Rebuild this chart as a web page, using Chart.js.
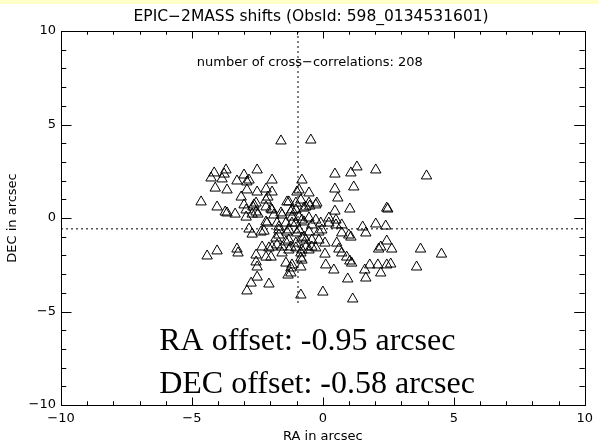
<!DOCTYPE html>
<html>
<head>
<meta charset="utf-8">
<script src="https://cdn.jsdelivr.net/npm/chart.js@4"></script>
<style>
  html, body { margin: 0; padding: 0; background: #fff; }
  #wrap { position: relative; width: 599px; height: 446px; }
  #band { position: absolute; left: 0; top: 0; width: 599px; height: 4px; background: #ffffc8; }
</style>
</head>
<body>
<div id="wrap">
  <canvas id="shiftChart" width="599" height="446"></canvas>
  <div id="band"></div>
</div>
<script>
// EPIC - 2MASS position shifts, arcsec
const raShift = [
  -1.60,-0.46,-3.70,-2.51,-4.15,-4.27,-3.77,-3.85,-3.28,-3.01,
  -2.90,-2.82,-1.94,-0.80,-4.11,-3.66,-2.90,-2.51,-3.12,-4.65,
  -4.04,-3.73,-3.66,-3.35,-3.01,-2.93,-2.63,-2.55,-2.93,-2.70,
  -2.48,-2.17,-1.94,-2.17,-2.10,-2.55,-2.67,-2.17,-1.98,-1.87,
  -1.56,-2.13,-2.82,-2.70,-2.36,-1.30,-0.91,-0.84,-1.03,-0.72,
  -1.18,-0.80,-1.68,-1.41,-0.99,-0.53,-1.37,-0.53,-0.23,-1.94,
  -1.60,-1.22,-2.17,-1.75,-1.03,-0.72,-0.42,-0.08,-2.25,-1.68,
  -1.37,-0.91,-0.53,-0.15,-1.79,-1.30,-0.80,-0.42,-0.15,-2.32,
  -1.94,-1.56,-1.03,-0.65,-0.27,-2.17,-0.84,-1.41,-1.18,-1.33,
  -0.84,-2.06,-0.84,-4.42,-4.04,-3.28,-3.24,-2.55,-2.55,-2.51,
  -2.51,-2.74,-2.90,-1.22,-1.98,-1.75,-1.68,-1.30,-1.41,-1.03,
  -0.84,-0.65,-0.99,-1.30,-1.18,-1.56,-2.06,
  0.46,1.07,1.30,2.02,3.96,0.46,1.18,0.57,0.46,1.03,
  2.44,2.48,-1.03,-0.50,-0.27,-0.65,-1.18,0.23,0.50,0.72,
  1.52,2.02,2.40,-0.53,-0.91,-0.27,1.64,2.44,2.13,2.63,
  3.73,4.53,3.58,1.79,2.10,2.44,2.59,2.21,1.60,1.64,
  0.95,1.14,0.00,0.08,0.11,0.42,0.61,0.72,0.91,1.03,
  1.10,0.50,0.99,1.07,0.72,0.53,0.08,-0.72,-1.22,-0.80,
  -0.53,-0.80,-1.22,-0.04,0.23,-0.42,2.21
];
const decShift = [
  4.12,4.17,2.57,2.57,2.41,2.14,2.35,2.09,1.98,2.30,
  1.93,2.03,2.03,2.03,1.60,1.50,1.50,1.39,1.12,0.86,
  0.59,0.32,0.27,0.21,0.70,0.43,0.70,0.32,0.05,0.21,
  0.21,1.55,1.39,0.96,1.12,0.80,0.59,0.59,0.48,0.16,
  0.16,-0.27,-0.59,-0.86,-0.75,0.86,1.50,0.96,0.43,0.53,
  0.05,-0.11,-0.48,-0.27,1.39,1.34,0.86,0.80,0.80,0.43,
  0.27,0.32,-0.21,-0.27,-0.27,-0.21,-0.37,-0.27,-0.70,-0.64,
  -0.75,-0.64,-0.75,-0.75,-1.07,-1.18,-1.07,-1.18,-1.18,-1.55,
  -1.55,-1.55,-1.60,-1.55,-1.60,-2.09,-2.14,-2.41,-2.51,-3.05,
  -2.62,-3.53,-4.12,-2.03,-1.76,-1.66,-1.87,-1.98,-2.35,-2.62,
  -3.16,-3.48,-3.90,-2.67,-2.09,-1.44,-0.91,-1.71,-1.28,-1.34,
  -1.87,-1.18,-0.80,-0.64,-0.27,-1.87,-1.60,
  2.35,2.41,2.73,2.57,2.25,1.55,1.66,1.07,0.37,0.48,
  0.53,0.48,0.80,0.64,0.70,0.59,0.43,0.00,-0.11,-0.37,
  -0.48,-0.32,-0.43,0.00,0.05,-0.11,-0.80,-1.23,-1.66,-1.66,
  -1.66,-1.93,-2.62,-2.51,-2.51,-2.51,-2.46,-2.94,-2.78,-3.21,
  -3.26,-4.33,-3.96,-1.93,-2.51,-2.78,-1.66,-1.87,-2.09,-2.30,
  -2.41,-0.37,-0.91,-1.02,-0.80,-1.34,-1.34,-1.02,-1.55,-1.71,
  -1.71,-2.25,-2.94,-0.64,-0.27,-1.55,-1.55
];
const raOffset = -0.95;
const decOffset = -0.58;
const nCorrelations = 208;
const axisMin = -10;
const axisMax = 10;
const tickStep = 5;
const plotTitle = 'EPIC\u22122MASS shifts (ObsId: 598_0134531601)';

const points = raShift.map((ra, i) => ({ x: ra, y: decShift[i] }));

// IDL style box: frame on all four sides, inward ticks, text labels
const idlFrame = {
    id: 'idlFrame',
    afterDraw(chart) {
        const { ctx, chartArea: a, scales: { x, y } } = chart;
        ctx.save();
        ctx.strokeStyle = '#000';
        ctx.lineWidth = 1;
        ctx.strokeRect(Math.round(a.left) + 0.5, Math.round(a.top) + 0.5,
            Math.round(a.right - a.left), Math.round(a.bottom - a.top));
        ctx.beginPath();
        for (let v = axisMin; v <= axisMax; v++) {
            const major = v % tickStep === 0;
            const px = Math.round(x.getPixelForValue(v)) + 0.5;
            const lx = major ? 7.5 : 3.75;
            ctx.moveTo(px, a.bottom); ctx.lineTo(px, a.bottom - lx);
            ctx.moveTo(px, a.top); ctx.lineTo(px, a.top + lx);
            const py = Math.round(y.getPixelForValue(v)) + 0.5;
            const ly = major ? 10.5 : 5.25;
            ctx.moveTo(a.left, py); ctx.lineTo(a.left + ly, py);
            ctx.moveTo(a.right, py); ctx.lineTo(a.right - ly, py);
        }
        ctx.stroke();

        ctx.fillStyle = '#000';
        ctx.textAlign = 'center';
        ctx.textBaseline = 'middle';
        // title sits a little left of the plot centre, as in the original
        ctx.font = '15.5px "DejaVu Sans"';
        ctx.fillText(plotTitle, x.getPixelForValue(-0.45), 17);

        ctx.font = '13px "DejaVu Sans"';
        ctx.fillText('number of cross\u2212correlations: ' + nCorrelations,
            x.getPixelForValue(-0.5), y.getPixelForValue(8.3));

        ctx.font = '32px "Liberation Serif"';
        ctx.textAlign = 'left';
        ctx.textBaseline = 'alphabetic';
        ctx.fillText('RA offset: ' + raOffset.toFixed(2) + ' arcsec',
            x.getPixelForValue(-6.25), y.getPixelForValue(-7.05));
        ctx.fillText('DEC offset: ' + decOffset.toFixed(2) + ' arcsec',
            x.getPixelForValue(-6.25), y.getPixelForValue(-9.35));
        ctx.restore();
    }
};

const minusSign = v => String(v).replace('-', '\u2212');

new Chart(document.getElementById('shiftChart'), {
    type: 'scatter',
    data: {
        datasets: [
            {
                data: points,
                pointStyle: 'triangle',
                radius: 6,
                borderColor: '#000',
                borderWidth: 1,
                backgroundColor: 'rgba(0,0,0,0)'
            },
            {
                type: 'line',
                data: [{ x: raOffset, y: axisMax }, { x: raOffset, y: -4.7 }],
                borderColor: '#000',
                borderWidth: 1,
                borderDash: [2, 3],
                pointRadius: 0
            },
            {
                type: 'line',
                data: [{ x: axisMin, y: decOffset }, { x: axisMax, y: decOffset }],
                borderColor: '#000',
                borderWidth: 1,
                borderDash: [2, 3],
                pointRadius: 0
            }
        ]
    },
    options: {
        responsive: false,
        animation: false,
        devicePixelRatio: 1,
        layout: { padding: { left: 0, right: 13, top: 31, bottom: 0 } },
        plugins: {
            legend: { display: false },
            tooltip: { enabled: false }
        },
        scales: {
            x: {
                type: 'linear',
                min: axisMin,
                max: axisMax,
                grid: { display: false, drawTicks: false },
                border: { display: false },
                ticks: {
                    stepSize: tickStep,
                    padding: 6,
                    color: '#000',
                    maxRotation: 0,
                    font: { family: 'DejaVu Sans', size: 13 },
                    callback: minusSign
                },
                title: {
                    display: true,
                    text: 'RA in arcsec',
                    color: '#000',
                    font: { family: 'DejaVu Sans', size: 13 },
                    padding: { top: 0, bottom: 2 }
                },
                afterFit: scale => { scale.height = 41; }
            },
            y: {
                type: 'linear',
                min: axisMin,
                max: axisMax,
                grid: { display: false, drawTicks: false },
                border: { display: false },
                ticks: {
                    stepSize: tickStep,
                    padding: 5,
                    color: '#000',
                    font: { family: 'DejaVu Sans', size: 13 },
                    callback: minusSign
                },
                title: {
                    display: true,
                    text: 'DEC in arcsec',
                    color: '#000',
                    font: { family: 'DejaVu Sans', size: 13 },
                    padding: { top: 5, bottom: 0 }
                },
                afterFit: scale => { scale.width = 61; }
            }
        }
    },
    plugins: [idlFrame]
});
</script>
</body>
</html>
